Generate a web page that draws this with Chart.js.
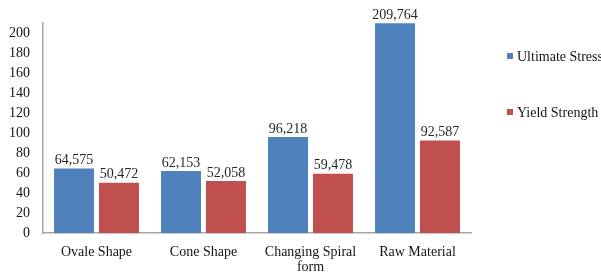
<!DOCTYPE html>
<html><head><meta charset="utf-8">
<script src="https://cdn.jsdelivr.net/npm/chart.js@4"></script>
<style>html,body{margin:0;padding:0;background:#fff}#w{width:601px;height:273px}</style>
</head><body><div id="w"><canvas id="c"></canvas></div>
<script>
const categories = ["Ovale Shape", "Cone Shape", ["Changing Spiral", "form"], "Raw Material"];
const ultimateStress = [64.575, 62.153, 96.218, 209.764];
const yieldStrength = [50.472, 52.058, 59.478, 92.587];
const seriesNames = ["Ultimate Stress", "Yield Strength"];
const yTicks = [0, 20, 40, 60, 80, 100, 120, 140, 160, 180, 200];

const FONT = "'Liberation Serif', 'DejaVu Serif', serif";
const TXT = '#141414';
const labelPlugin = {
  id: 'valLabels',
  afterDatasetsDraw(chart) {
    const ctx = chart.ctx;
    ctx.save();
    ctx.font = "14px " + FONT;
    ctx.fillStyle = '#262626';
    ctx.textAlign = 'center';
    ctx.textBaseline = 'bottom';
    chart.data.datasets.forEach((ds, i) => {
      chart.getDatasetMeta(i).data.forEach((bar, j) => {
        const s = ds.data[j].toFixed(3).replace('.', ',');
        ctx.fillText(s, bar.x, bar.y - 1);
      });
    });
    ctx.restore();
  }
};
const legendPlugin = {
  id: 'sideLegend',
  afterDraw(chart) {
    const ctx = chart.ctx;
    ctx.save();
    ctx.font = "14px " + FONT;
    ctx.textAlign = 'left';
    ctx.textBaseline = 'middle';
    const ys = [56, 112];
    chart.data.datasets.forEach((ds, i) => {
      ctx.fillStyle = ds.backgroundColor;
      ctx.fillRect(507, ys[i] - 3, 6, 6);
      ctx.fillStyle = TXT;
      ctx.fillText(ds.label, 517, ys[i] + 1);
    });
    ctx.restore();
  }
};

new Chart(document.getElementById('c'), {
  type: 'bar',
  data: {
    labels: categories,
    datasets: [
      { label: seriesNames[0], data: ultimateStress, backgroundColor: '#4f81bd', categoryPercentage: 0.84, barPercentage: 0.89 },
      { label: seriesNames[1], data: yieldStrength, backgroundColor: '#c0504d', categoryPercentage: 0.84, barPercentage: 0.89 }
    ]
  },
  options: {
    responsive: true, maintainAspectRatio: false, animation: false,
    layout: { padding: { top: 23, right: 130, left: -4, bottom: -13 } },
    plugins: {
      tooltip: { enabled: false },
      legend: { display: false }
    },
    scales: {
      x: {
        grid: { display: false, drawTicks: false },
        border: { display: true, color: '#a6a6a6', width: 1.5 },
        ticks: { color: TXT, font: { family: FONT, size: 14, lineHeight: 1.1 }, padding: 11, maxRotation: 0, autoSkip: false }
      },
      y: {
        min: 0, max: 210,
        afterBuildTicks: (ax) => { ax.ticks = yTicks.map(v => ({ value: v })); },
        grid: { display: false, drawTicks: false },
        border: { display: true, color: '#a6a6a6', width: 1.5 },
        ticks: { color: TXT, font: { family: FONT, size: 14 }, padding: 13 }
      }
    }
  },
  plugins: [labelPlugin, legendPlugin]
});
</script></body></html>
